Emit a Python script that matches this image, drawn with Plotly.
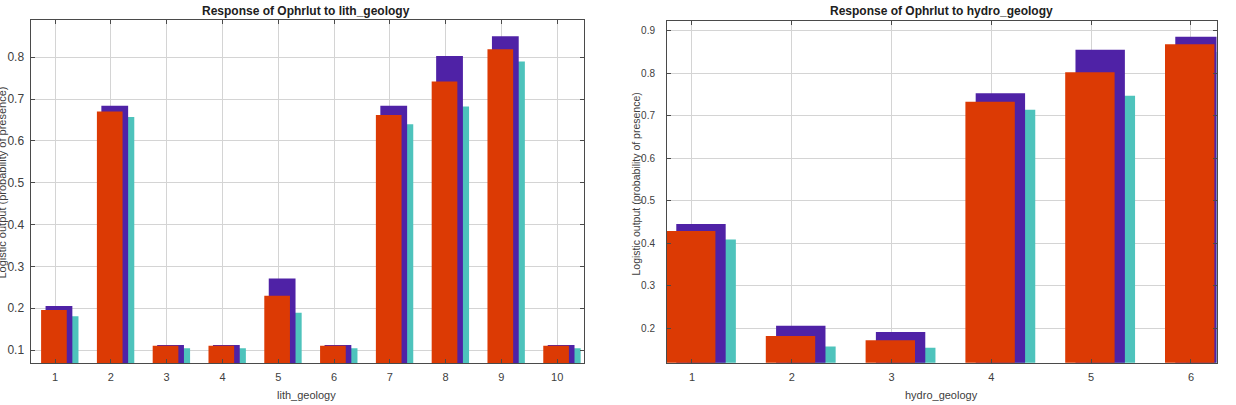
import plotly.graph_objects as go

# ---- data ----
lith_cats = [1, 2, 3, 4, 5, 6, 7, 8, 9, 10]
lith_mean = [0.196, 0.670, 0.110, 0.110, 0.230, 0.110, 0.662, 0.742, 0.819, 0.110]
lith_plus = [0.205, 0.684, 0.112, 0.112, 0.271, 0.112, 0.684, 0.803, 0.850, 0.112]
lith_minus = [0.181, 0.657, 0.104, 0.104, 0.189, 0.104, 0.640, 0.682, 0.790, 0.104]

hydro_cats = [1, 2, 3, 4, 5, 6]
hydro_mean = [0.429, 0.182, 0.172, 0.733, 0.802, 0.868]
hydro_plus = [0.445, 0.206, 0.191, 0.753, 0.855, 0.886]
hydro_minus = [0.409, 0.157, 0.154, 0.714, 0.747, 0.850]

lith_yticks = [0.1, 0.2, 0.3, 0.4, 0.5, 0.6, 0.7, 0.8]
hydro_yticks = [0.2, 0.3, 0.4, 0.5, 0.6, 0.7, 0.8, 0.9]

RED = "#DC3A04"
PURPLE = "#4F22A6"
CYAN = "#4EC3BC"

W, H = 1236, 405
fig = go.Figure()

def add_set(cats, mean, plus, minus, xa, ya, geo):
    (ro, rw), (po, pw), (co, cw) = geo
    fig.add_trace(go.Bar(x=cats, y=minus, offset=co, width=cw, marker=dict(color=CYAN, line=dict(width=0)),
                         xaxis=xa, yaxis=ya, showlegend=False))
    fig.add_trace(go.Bar(x=cats, y=plus, offset=po, width=pw, marker=dict(color=PURPLE, line=dict(width=0)),
                         xaxis=xa, yaxis=ya, showlegend=False))
    fig.add_trace(go.Bar(x=cats, y=mean, offset=ro, width=rw, marker=dict(color=RED, line=dict(width=0)),
                         xaxis=xa, yaxis=ya, showlegend=False))

add_set(lith_cats, lith_mean, lith_plus, lith_minus, "x", "y",
        ((-0.25, 0.46), (-0.17, 0.48), (-0.08, 0.50)))
add_set(hydro_cats, hydro_mean, hydro_plus, hydro_minus, "x2", "y2",
        ((-0.26, 0.495), (-0.157, 0.495), (-0.05, 0.49)))

def px_x(p):
    return p / W

def px_y(p):
    return 1 - p / H

FONT = "Liberation Sans, Arial, sans-serif"
tickfont = dict(family=FONT, size=11, color="#404040")
axis_common = dict(showline=True, linecolor="#4a4a4a", linewidth=1, mirror="ticks",
                   ticks="inside", ticklen=4, tickcolor="#4a4a4a", showgrid=True,
                   gridcolor="#d4d4d4", gridwidth=1, zeroline=False,
                   automargin=False)

fig.update_layout(
    width=W, height=H, margin=dict(l=0, r=0, t=0, b=0),
    paper_bgcolor="white", plot_bgcolor="white", barmode="overlay",
    xaxis=dict(domain=[px_x(30.5), px_x(584)], range=[0.56, 10.48], tickvals=lith_cats,
               anchor="y", ticklabelstandoff=4, tickfont=tickfont, **axis_common),
    yaxis=dict(domain=[px_y(363), px_y(20)], range=[0.069, 0.889], tickvals=lith_yticks,
               tickformat=".1f", anchor="x", ticklabelstandoff=3,
               tickfont=dict(family=FONT, size=12, color="#404040"), **axis_common),
    xaxis2=dict(domain=[px_x(667), px_x(1216.5)], range=[0.75, 6.256], tickvals=hydro_cats,
                anchor="y2", ticklabelstandoff=4, tickfont=tickfont, **axis_common),
    yaxis2=dict(domain=[px_y(362.7), px_y(20.7)], range=[0.119, 0.9235], tickvals=hydro_yticks,
                tickformat=".1f", anchor="x2", ticklabelstandoff=9,
                tickfont=dict(family=FONT, size=10, color="#404040"), **axis_common),
    font=dict(family=FONT),
)

labfont = dict(family=FONT, size=11, color="#404040")
titfont = dict(family=FONT, size=12, color="#202020")

ann = [
    dict(text="<b>Response of Ophrlut to lith_geology</b>", x=px_x(306), y=px_y(11), font=titfont),
    dict(text="<b>Response of Ophrlut to hydro_geology</b>", x=px_x(941), y=px_y(11), font=titfont),
    dict(text="lith_geology", x=px_x(306), y=px_y(395), font=labfont),
    dict(text="hydro_geology", x=px_x(941), y=px_y(395), font=labfont),
    dict(text="Logistic output (probability of presence)", x=px_x(1.5), y=px_y(183), textangle=-90, font=labfont),
    dict(text="Logistic output (probability of presence)", x=px_x(635.5), y=px_y(184), textangle=-90,
         font=dict(family=FONT, size=10.5, color="#404040")),
]
for a in ann:
    fig.add_annotation(xref="paper", yref="paper", showarrow=False, xanchor="center", yanchor="middle", **a)

fig.write_html("out.html")
